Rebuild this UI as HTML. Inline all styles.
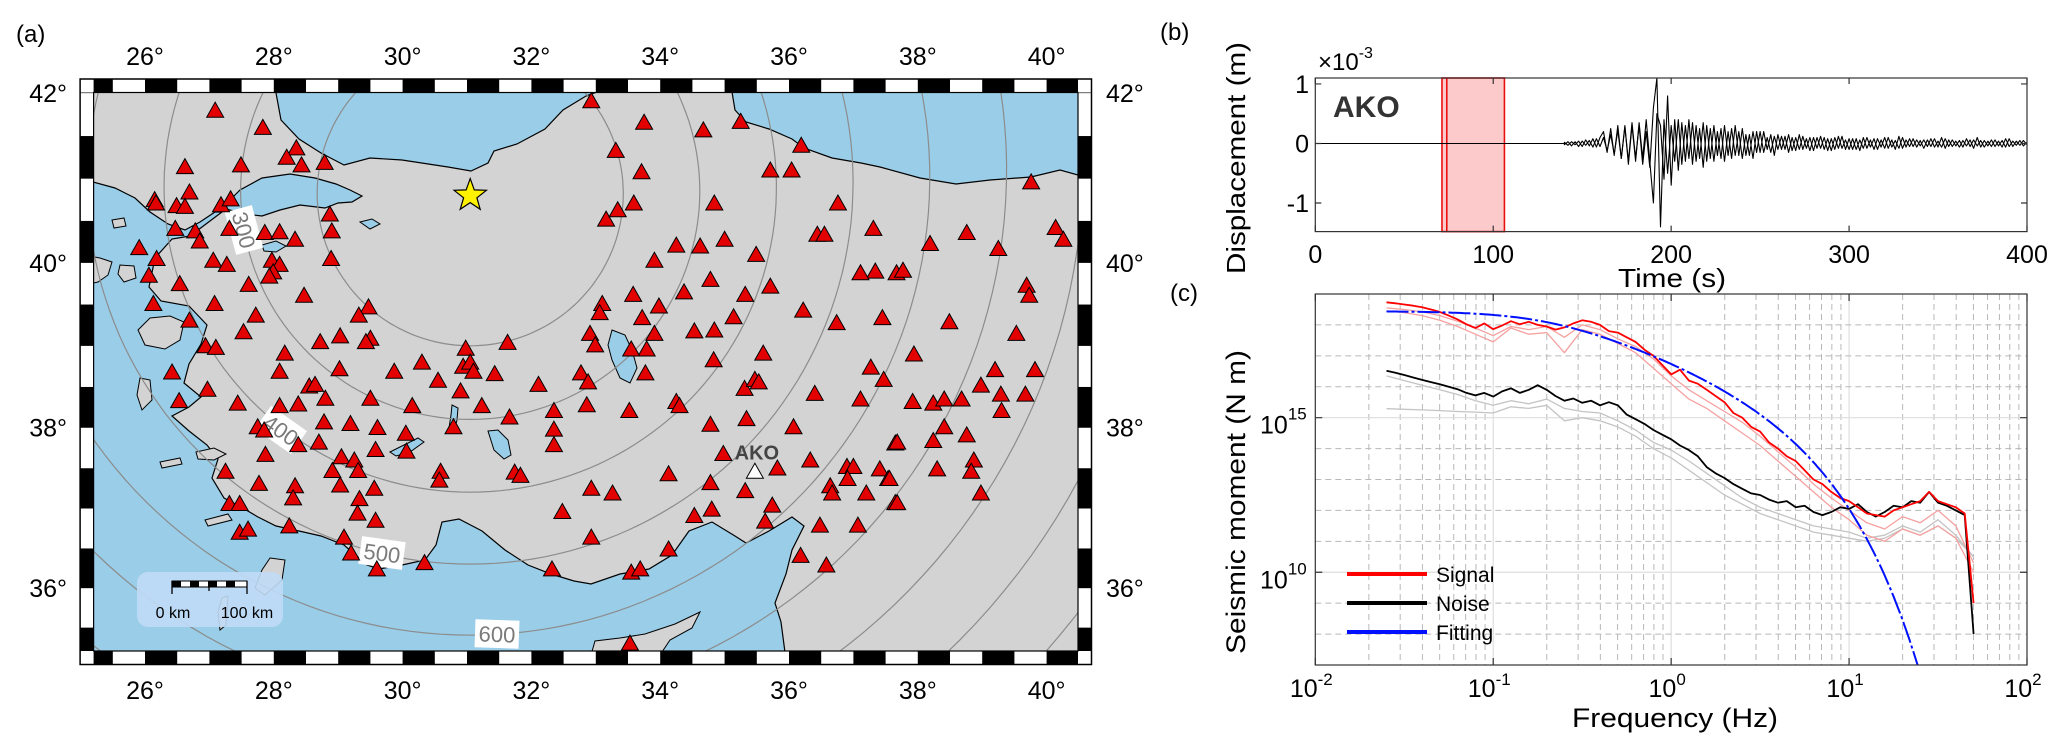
<!DOCTYPE html>
<html><head><meta charset="utf-8"><style>
html,body{margin:0;padding:0;background:#fff;width:2067px;height:750px;overflow:hidden;}
svg{display:block;font-family:"Liberation Sans",sans-serif;}
</style></head><body>
<svg id="fig" width="2067" height="750" viewBox="0 0 2067 750" xmlns="http://www.w3.org/2000/svg">
<defs>
<clipPath id="mapclip"><rect x="93.6" y="92.5" width="984.4" height="558.5"/></clipPath>
<clipPath id="bclip"><rect x="1315.3" y="78" width="711.7" height="154"/></clipPath>
<clipPath id="cclip"><rect x="1315.3" y="294" width="711.7" height="371"/></clipPath>
</defs>
<g id="mapg">
<g clip-path="url(#mapclip)">
<rect x="93.6" y="92.5" width="984.4" height="558.5" fill="#d3d3d3"/>
<path fill="#9acde8" stroke="#000" stroke-width="1.2" d="M276,80 L276,93 281,120 299,139 321,153 344,165 370,158 402,160 448,167 471,171 488,163 494,151 517,144 545,129 563,110 586,96 597,92 597,80 Z"/>
<path fill="#9acde8" stroke="#000" stroke-width="1.2" d="M732,80 L732,92 735,110 746,122 769,129 792,139 804,148 832,158 861,163 880,167 920,178 956,184 990,180 1031,177 1060,170 1078,175 1090,175 1090,80 Z"/>
<path fill="#9acde8" stroke="#000" stroke-width="1.2" d="M222,208 L240,190 262,178 290,174 315,178 336,184 350,190 362,196 352,202 338,203 325,208 300,205 280,210 262,216 245,214 Z"/>
<path fill="#9acde8" stroke="#000" stroke-width="1.2" d="M80,182 L93,182 115,188 135,198 150,212 168,224 185,230 200,222 215,212 222,212 190,236 172,239 155,258 149,287 161,301 189,306 207,325 201,344 189,364 184,383 201,397 189,407 172,416 189,431 207,445 218,459 212,478 224,498 241,507 258,517 276,526 299,531 321,536 344,545 367,565 379,569 402,565 425,560 436,545 442,522 459,519 482,531 505,550 528,565 551,574 574,581 591,584 620,574 649,569 672,555 689,531 712,522 735,536 746,543 769,531 792,517 804,526 792,550 786,574 775,603 781,622 786,660 80,660 Z"/>
<path fill="#d3d3d3" stroke="#000" stroke-width="1" d="M85,255 L100,258 112,262 108,275 98,282 85,285 Z"/>
<path fill="#d3d3d3" stroke="#000" stroke-width="1" d="M138,330 L150,318 170,316 184,322 180,340 165,349 145,345 Z"/>
<path fill="#d3d3d3" stroke="#000" stroke-width="1" d="M140,378 L150,380 152,400 142,410 137,395 Z"/>
<path fill="#d3d3d3" stroke="#000" stroke-width="1" d="M120,265 L134,266 136,278 124,282 118,274 Z"/>
<path fill="#d3d3d3" stroke="#000" stroke-width="1" d="M112,220 L124,218 126,226 114,228 Z"/>
<path fill="#d3d3d3" stroke="#000" stroke-width="1" d="M196,452 L214,448 226,454 214,460 198,459 Z"/>
<path fill="#d3d3d3" stroke="#000" stroke-width="1" d="M160,462 L180,458 182,464 162,468 Z"/>
<path fill="#d3d3d3" stroke="#000" stroke-width="1" d="M205,520 L228,514 232,520 208,526 Z"/>
<path fill="#d3d3d3" stroke="#000" stroke-width="1" d="M270,558 L285,560 282,580 265,595 255,588 262,570 Z"/>
<path fill="#d3d3d3" stroke="#000" stroke-width="1" d="M222,598 L228,596 226,625 220,630 218,612 Z"/>
<path fill="#d3d3d3" stroke="#000" stroke-width="1" d="M591,655 L595,641 620,638 645,634 675,624 700,612 692,628 670,640 660,655 Z"/>
<path fill="#9acde8" stroke="#000" stroke-width="1" d="M612,330 L625,335 632,350 637,368 630,383 620,378 612,360 608,345 Z"/>
<path fill="#9acde8" stroke="#000" stroke-width="1" d="M488,431 L498,430 508,440 511,455 504,459 494,450 Z"/>
<path fill="#9acde8" stroke="#000" stroke-width="1" d="M452,405 L458,408 457,420 454,432 449,428 451,415 Z"/>
<path fill="#9acde8" stroke="#000" stroke-width="1" d="M390,452 L402,446 418,438 424,442 410,452 396,456 Z"/>
<path fill="#9acde8" stroke="#000" stroke-width="1" d="M360,222 L372,219 380,224 370,229 Z"/>
<path fill="#9acde8" stroke="#000" stroke-width="1" d="M262,245 L276,241 286,246 276,252 264,251 Z"/>
<g id="circles"></g>
</g>
<g id="frame"></g>
<g id="labels"></g>
<g id="stations"></g>
<g>
<rect x="137" y="572" width="146" height="55" rx="11" fill="#c0dcf6" opacity="0.9"/>
<rect x="172" y="581" width="75" height="6" fill="#fff" stroke="#000" stroke-width="1"/>
<rect x="172" y="581" width="9" height="6" fill="#000"/><rect x="190" y="581" width="9" height="6" fill="#000"/><rect x="208" y="581" width="9" height="6" fill="#000"/><rect x="226" y="581" width="9" height="6" fill="#000"/>
<path d="M172,581 V594 M247,581 V594 M209,587 V591" stroke="#000" stroke-width="1.3"/>
<text x="173" y="618" font-size="16" text-anchor="middle">0 km</text>
<text x="247" y="618" font-size="16" text-anchor="middle">100 km</text>
</g>
</g>
<text x="16" y="42" font-size="24">(a)</text>
<text x="1160" y="40" font-size="24">(b)</text>
<text x="1170" y="301" font-size="24">(c)</text>
<g id="panelb"></g>
<g id="panelc"></g>
</svg>
<script>
// ---------- Map data ----------
const stationLon=[27.09,27.83,28.35,28.20,28.43,28.79,27.49,26.62,26.69,26.15,26.17,26.49,26.62,27.18,27.33,26.47,26.78,26.85,27.31,27.86,28.09,28.33,28.87,28.90,25.91,26.18,27.06,27.27,27.97,28.09,27.99,27.93,28.89,26.06,26.54,27.61,26.13,27.08,28.47,29.47,29.32,26.69,27.72,27.53,28.72,29.03,29.50,29.43,26.94,27.10,28.17,30.98,31.63,29.87,30.30,29.02,28.09,26.42,28.55,28.64,30.94,31.05,31.10,31.43,30.55,29.50,30.90,30.15,31.23,32.11,32.35,26.97,26.53,27.44,28.38,28.80,28.09,28.78,29.19,27.75,27.85,28.38,29.61,30.05,30.79,31.66,32.35,32.35,28.70,27.87,29.58,30.06,29.05,29.25,29.31,28.91,27.25,30.59,30.57,31.74,31.83,27.77,28.33,28.30,29.03,29.56,29.33,29.30,29.58,27.31,27.47,28.24,27.47,27.60,29.09,29.20,29.60,30.34,32.32,33.55,33.69,33.53,32.48,32.93,33.26,32.93,34.13,34.13,33.52,33.77,33.79,33.55,33.91,33.72,33.98,33.58,33.10,33.06,32.91,32.99,32.77,32.88,32.86,34.25,34.30,34.78,34.83,34.98,34.78,34.80,34.53,35.32,35.82,35.74,35.63,36.58,36.18,36.48,36.33,36.64,36.67,36.90,37.00,36.91,37.07,37.20,37.41,37.54,37.65,36.07,36.40,35.34,35.31,35.47,35.53,35.60,34.84,34.53,35.14,35.32,35.71,36.22,36.74,37.45,37.27,37.47,37.11,37.65,37.34,37.11,37.67,33.91,34.25,34.62,35.00,35.49,34.78,34.37,33.16,33.34,33.59,34.84,36.44,36.55,36.76,37.31,33.71,33.31,33.75,32.93,34.67,35.25,35.71,36.04,36.19,39.76,40.14,40.26,38.76,38.19,39.25,37.77,39.69,39.73,38.49,39.53,37.94,39.20,39.82,38.98,39.67,39.29,37.92,38.24,38.41,38.68,39.30,38.41,37.68,38.24,38.76,38.87,38.83,38.30,37.56,38.98,37.68];
const stationLat=[41.79,41.59,41.35,41.24,41.15,41.18,41.15,41.13,40.83,40.74,40.70,40.67,40.66,40.68,40.75,40.40,40.37,40.25,40.40,40.35,40.36,40.27,40.57,40.37,40.17,40.04,40.02,39.97,40.02,39.97,39.88,39.83,40.04,39.84,39.74,39.73,39.50,39.50,39.60,39.46,39.36,39.30,39.36,39.16,39.04,39.11,39.08,39.04,38.99,38.97,38.90,38.96,39.03,38.68,38.79,38.71,38.68,38.67,38.50,38.52,38.74,38.79,38.68,38.65,38.57,38.35,38.44,38.26,38.26,38.52,38.20,38.46,38.32,38.29,38.28,38.35,38.26,38.06,38.04,38.00,37.96,37.78,37.99,37.92,38.00,38.12,37.97,37.78,37.81,37.66,37.72,37.70,37.63,37.59,37.46,37.46,37.45,37.45,37.34,37.44,37.40,37.30,37.27,37.12,37.28,37.24,37.11,36.93,36.84,37.05,37.05,36.77,36.69,36.73,36.63,36.43,36.23,36.31,36.23,36.19,36.23,35.29,36.95,37.24,37.18,36.63,36.48,37.42,38.20,38.66,38.95,38.95,39.14,39.33,39.47,39.61,39.50,39.39,39.14,39.00,38.66,38.55,38.27,38.31,38.26,38.03,38.82,37.67,37.31,36.98,36.90,37.21,37.49,37.03,36.83,36.28,36.40,36.78,37.59,37.27,37.18,37.51,37.51,37.36,36.78,37.18,37.48,37.36,37.06,38.00,38.41,38.10,38.47,38.58,38.55,38.90,39.18,39.17,39.34,39.61,39.71,39.42,39.27,39.33,38.73,38.58,38.34,37.80,39.89,39.87,39.87,40.02,40.20,40.19,40.27,40.09,39.79,39.64,40.51,40.62,40.70,40.70,40.33,40.33,40.70,40.40,41.07,41.32,41.65,41.90,41.56,41.66,41.09,41.09,41.38,40.95,40.41,40.27,40.35,40.22,40.16,39.90,39.72,39.60,39.28,39.14,38.89,38.70,38.70,38.51,38.40,38.40,38.31,38.29,38.34,38.34,38.20,38.00,37.81,37.83,37.90,37.59,37.45,37.48,37.36,37.18,37.06];
const akoLon=35.47, akoLat=37.45;
const epiLon=31.05, epiLat=40.80;
const circleKm=[200,300,400,500,600,700,800,900,1000];
const lonTicks=[26,28,30,32,34,36,38,40];
const latTicks=[36,38,40,42];

// ---------- Waveform data (x1e-3 m), t from 140 to 400 step 2 ----------
const waveT0=140, waveDt=2;
const trace1=[0.02,-0.03,0.03,-0.02,0.04,-0.05,0.06,-0.04,0.08,-0.06,0.10,
0.20,-0.15,0.25,-0.20,0.30,-0.25,0.28,-0.30,0.35,-0.25,
0.30,-0.35,0.20,-0.40,0.60,1.10,-1.40,0.40,-0.50,0.30,
-0.30,0.40,-0.35,0.30,-0.25,0.35,-0.30,0.25,-0.40,0.30,
-0.25,0.30,-0.20,0.25,-0.30,0.20,-0.25,0.30,-0.20,0.25,
-0.20,0.15,-0.25,0.20,-0.15,0.20,-0.10,0.15,-0.20,0.15,
-0.10,0.12,-0.15,0.10,-0.12,0.15,-0.10,0.08,-0.12,0.10,
-0.08,0.12,-0.10,0.08,-0.12,0.10,-0.08,0.12,-0.10,0.08,
-0.10,0.08,-0.12,0.10,-0.08,0.06,-0.10,0.08,-0.06,0.10,
-0.08,0.06,-0.10,0.12,-0.08,0.06,-0.05,0.08,-0.06,0.05,
-0.08,0.06,-0.05,0.08,-0.06,0.10,-0.08,0.06,-0.05,0.04,
-0.06,0.05,-0.04,0.06,-0.08,0.10,-0.06,0.05,-0.04,0.06,
-0.05,0.04,-0.06,0.08,-0.05,0.04,-0.03,0.05,-0.04,0.02];
const trace2=[-0.02,0.03,-0.04,0.03,-0.05,0.04,-0.03,0.05,-0.06,0.08,-0.05,
0.10,-0.12,0.15,-0.18,0.22,-0.25,0.30,-0.35,0.30,-0.30,
0.35,-0.25,0.40,-0.30,-1.00,0.50,0.30,-0.60,0.80,-0.70,
0.40,-0.45,0.35,-0.30,0.40,-0.35,0.30,-0.25,0.35,-0.30,
0.25,-0.30,0.20,-0.25,0.30,-0.20,0.25,-0.20,0.20,-0.25,
0.15,-0.20,0.20,-0.15,0.20,-0.15,0.10,-0.15,0.12,-0.10,
0.12,-0.10,0.15,-0.12,0.10,-0.10,0.12,-0.08,0.10,-0.12,
0.10,-0.08,0.10,-0.12,0.08,-0.10,0.12,-0.08,0.06,-0.10,
0.08,-0.10,0.06,-0.08,0.10,-0.06,0.08,-0.10,0.06,-0.08,
0.10,-0.06,0.05,-0.08,0.10,-0.06,0.08,-0.05,0.06,-0.04,
0.06,-0.05,0.08,-0.06,0.04,-0.06,0.08,-0.05,0.06,-0.04,
0.05,-0.06,0.08,-0.05,0.06,-0.04,0.05,-0.06,0.04,-0.05,
0.06,-0.04,0.05,-0.06,0.08,-0.05,0.04,-0.03,0.05,-0.02];
const windowStart=71.2, windowInner=73.9, windowEnd=106.3;
const bXTicks=[0,100,200,300,400];
const bYTicks=[-1,0,1];

// ---------- Spectrum data (log10 N m) ----------
const specLogF0=-1.6, specStep=0.05;
const signalMain=[18.73,18.70,18.66,18.62,18.57,18.50,18.42,18.30,18.18,18.02,17.90,18.05,17.86,17.98,18.12,18.02,18.10,18.00,17.95,17.85,17.92,18.05,18.15,18.10,18.00,17.80,17.75,17.60,17.45,17.20,17.00,16.70,16.40,16.55,16.20,16.10,15.90,15.70,15.50,15.15,15.00,14.70,14.55,14.20,14.00,13.75,13.60,13.30,13.00,12.85,12.60,12.40,12.30,12.10,11.90,11.85,11.80,12.00,12.10,12.20,12.30,12.60,12.30,12.20,12.10,11.90,9.00];
const noiseMain=[16.52,16.45,16.38,16.30,16.22,16.15,16.08,16.00,15.92,15.80,15.72,15.80,15.68,15.85,15.95,15.80,15.90,16.05,15.90,15.70,15.55,15.62,15.48,15.55,15.40,15.50,15.40,15.10,14.95,14.80,14.60,14.45,14.30,14.10,13.95,13.75,13.40,13.20,13.05,12.85,12.70,12.55,12.50,12.35,12.25,12.30,12.10,12.15,11.95,11.85,11.95,12.10,12.05,12.20,11.95,11.80,11.95,12.15,12.10,12.30,12.25,12.60,12.25,12.15,12.00,11.85,8.00];
const lightStep=0.1;
const signalLight1=[18.45,18.40,18.30,18.15,17.95,17.70,17.45,17.90,17.70,17.75,17.10,17.85,17.70,17.40,17.10,16.60,16.10,15.60,15.30,14.90,14.50,14.10,13.60,13.10,12.60,12.10,11.70,11.20,11.00,11.40,11.20,11.50,11.10,10.00];
const signalLight2=[18.55,18.50,18.42,18.30,18.12,17.90,17.65,17.95,17.85,17.95,17.60,18.00,17.85,17.55,17.30,16.90,16.35,15.90,15.55,15.20,14.85,14.40,13.90,13.40,12.85,12.40,12.00,11.60,11.40,11.80,11.60,12.00,11.50,10.30];
const noiseLight1=[16.35,16.20,16.05,15.90,15.75,15.55,15.40,15.55,15.45,15.60,15.30,15.20,15.15,14.90,14.60,14.20,13.95,13.60,13.20,12.80,12.40,12.10,11.90,11.70,11.50,11.40,11.30,11.10,11.20,11.50,11.30,11.70,11.20,10.50];
const noiseLight2=[15.29,15.27,15.25,15.23,15.20,15.18,15.15,15.35,15.30,15.40,14.90,15.00,14.90,14.70,14.40,14.00,13.70,13.30,12.90,12.50,12.20,11.90,11.70,11.50,11.30,11.20,11.10,11.00,11.10,11.40,11.20,11.50,11.10,10.50];
const fitLogM0=18.45, fitFc=0.2, fitTstar=0.22;
const cXDecades=[-2,-1,0,1,2];
const cYLabels=[10,15];

// ---------- helpers ----------
const NS='http://www.w3.org/2000/svg';
function mk(tag,attrs,parent){const e=document.createElementNS(NS,tag);for(const k in attrs)e.setAttribute(k,attrs[k]);parent.appendChild(e);return e;}
const rad=Math.PI/180;
function mx(lon){return 145+(lon-26)*64.4;}
function my(lat){return 93+(0.8092-Math.log(Math.tan(Math.PI/4+lat*rad/2)))*3670;}

// ---------- Map: circles ----------
const cg=document.getElementById('circles');
const labelKm={300:[244,230,75],400:[281,430,35],500:[382,553,8],600:[497,634,2]};
circleKm.forEach(function(km){
  const d=km/6371, p1=epiLat*rad, l1=epiLon*rad;
  let s='';
  for(let th=0;th<=360;th+=2){
    const t=th*rad;
    const p2=Math.asin(Math.sin(p1)*Math.cos(d)+Math.cos(p1)*Math.sin(d)*Math.cos(t));
    const l2=l1+Math.atan2(Math.sin(t)*Math.sin(d)*Math.cos(p1),Math.cos(d)-Math.sin(p1)*Math.sin(p2));
    s+=(th?'L':'M')+mx(l2/rad).toFixed(1)+','+my(p2/rad).toFixed(1);
  }
  const c=mk('path',{d:s,fill:'none',stroke:'#8c8c8c','stroke-width':1.2},cg);
  
  
});
const lbg=document.getElementById('labels');
Object.keys(labelKm).forEach(function(k){
  const v=labelKm[k];
  const g=mk('g',{transform:'translate('+v[0]+','+v[1]+') rotate('+v[2]+')'},lbg);
  
  
  mk('rect',{x:-22,y:-14,width:44,height:28,fill:'#fff'},g);
  const t=mk('text',{x:0,y:8,'font-size':22,fill:'#7a7a7a','text-anchor':'middle'},g);
  t.textContent=k;
});

// ---------- Map frame ----------
const fr=document.getElementById('frame');
const L=93.6,R=1078,T=92.5,B=651,W=13.5;
mk('rect',{x:L-W,y:T-W,width:R-L+2*W,height:W,fill:'#fff'},fr);
mk('rect',{x:L-W,y:B,width:R-L+2*W,height:W,fill:'#fff'},fr);
mk('rect',{x:L-W,y:T,width:W,height:B-T,fill:'#fff'},fr);
mk('rect',{x:R,y:T,width:W,height:B-T,fill:'#fff'},fr);
for(let lon=25;lon<40.6;lon+=1){
  const x1=Math.max(L,mx(lon)),x2=Math.min(R,mx(lon+0.5));
  if(x2>x1){
    const a=mk('rect',{x:x1,y:T-W,width:x2-x1,height:W,fill:'#000'},fr);
    
    
    const b=mk('rect',{x:x1,y:B,width:x2-x1,height:W,fill:'#000'},fr);
    
    
  }
}
for(let lat=35;lat<42.1;lat+=1){
  const y1=Math.max(T,my(lat+0.5)),y2=Math.min(B,my(lat));
  if(y2>y1){
    const a=mk('rect',{x:L-W,y:y1,width:W,height:y2-y1,fill:'#000'},fr);
    
    
    const b=mk('rect',{x:R,y:y1,width:W,height:y2-y1,fill:'#000'},fr);
    
    
  }
}
mk('rect',{x:L-W,y:T-W,width:R-L+2*W,height:B-T+2*W,fill:'none',stroke:'#000','stroke-width':1.5},fr);
mk('rect',{x:L,y:T,width:R-L,height:B-T,fill:'none',stroke:'#000','stroke-width':1.2},fr);
const mapg=document.getElementById('mapg');
lonTicks.forEach(function(v){
  [[56,'top'],[690,'bottom']].forEach(function(p){
    const t=mk('text',{x:mx(v),y:p[0]+9,'font-size':25,'text-anchor':'middle'},mapg);
    
    
    t.textContent=v+'°';
  });
});
latTicks.forEach(function(v){
  const t=mk('text',{x:67,y:my(v)+9,'font-size':25,'text-anchor':'end'},mapg);
  
  
  t.textContent=v+'°';
  const t2=mk('text',{x:1106,y:my(v)+9,'font-size':25,'text-anchor':'start'},mapg);
  
  
  t2.textContent=v+'°';
});

// ---------- Stations ----------
const stg=document.getElementById('stations');
function tri(lon,lat,fill,parent){
  const x=mx(lon),y=my(lat);
  return mk('path',{d:'M'+x+','+(y-9)+' L'+(x+8.5)+','+(y+6)+' L'+(x-8.5)+','+(y+6)+' Z',fill:fill,stroke:'#000','stroke-width':1},parent);
}
for(let i=0;i<stationLon.length;i++){
  const s=tri(stationLon[i],stationLat[i],'#e30000',stg);
  
  
}
const ako=tri(akoLon,akoLat,'#fff',stg);


const akoT=mk('text',{x:mx(akoLon)+2,y:my(akoLat)-13,'font-size':20,'font-weight':'bold',fill:'#444','text-anchor':'middle'},stg);


akoT.textContent='AKO';
(function(){
  const cx=mx(epiLon),cy=my(epiLat);let s='';
  for(let i=0;i<10;i++){const r=i%2?7:17,a=-Math.PI/2+i*Math.PI/5;s+=(i?'L':'M')+(cx+r*Math.cos(a)).toFixed(1)+','+(cy+r*Math.sin(a)).toFixed(1);}
  const st=mk('path',{d:s+'Z',fill:'#fff200',stroke:'#000','stroke-width':1.2},stg);
  
  
})();

// ---------- Panel b ----------
const pb=document.getElementById('panelb');
const bx0=1315.3,bx1=2027,by0=78,by1=231.6,bYmin=-1.48,bYmax=1.1;
function bx(t){return bx0+(t/400)*(bx1-bx0);}
function byy(v){return by1-(v-bYmin)/(bYmax-bYmin)*(by1-by0);}
const win=mk('rect',{x:bx(windowStart),y:by0,width:bx(windowEnd)-bx(windowStart),height:by1-by0,fill:'#fccaca',stroke:'#e81010','stroke-width':1.6},pb);


const winL=mk('line',{x1:bx(windowInner),x2:bx(windowInner),y1:by0,y2:by1,stroke:'#e81010','stroke-width':1.6},pb);


const bg=mk('g',{'clip-path':'url(#bclip)'},pb);
[trace1,trace2].forEach(function(tr,k){
  let s='M'+bx(0)+','+byy(0)+' L'+bx(waveT0)+','+byy(0);
  for(let i=0;i<tr.length;i++)s+=' L'+bx(waveT0+i*waveDt).toFixed(1)+','+byy(tr[i]).toFixed(1);
  const p=mk('path',{d:s,fill:'none',stroke:'#000','stroke-width':1.1,'stroke-linejoin':'round'},bg);
  
  
});
const bbox=mk('rect',{x:bx0,y:by0,width:bx1-bx0,height:by1-by0,fill:'none',stroke:'#333','stroke-width':1.2},pb);


bXTicks.forEach(function(v){
  mk('path',{d:'M'+bx(v)+','+by1+' v-6 M'+bx(v)+','+by0+' v6',stroke:'#333','stroke-width':1.2},pb);
  const t=mk('text',{x:bx(v),y:263,'font-size':25,'text-anchor':'middle'},pb);
  
  
  t.textContent=v;
});
bYTicks.forEach(function(v){
  mk('path',{d:'M'+bx0+','+byy(v)+' h6 M'+bx1+','+byy(v)+' h-6',stroke:'#333','stroke-width':1.2},pb);
  const t=mk('text',{x:1309,y:byy(v)+9,'font-size':25,'text-anchor':'end'},pb);
  
  
  t.textContent=v;
});
(function(){
  const t=mk('text',{x:1318,y:70,'font-size':24},pb);
  
  
  t.innerHTML='×10<tspan font-size="16" dy="-12">-3</tspan>';
  const a=mk('text',{x:1333,y:117,'font-size':30,'font-weight':'bold',fill:'#333'},pb);
  
  
  a.textContent='AKO';
  const xl=mk('text',{x:1672,y:287,'font-size':26,'text-anchor':'middle',textLength:108,lengthAdjust:'spacingAndGlyphs'},pb);
  
  
  xl.textContent='Time (s)';
  const yl=mk('text',{x:0,y:0,'font-size':26,'text-anchor':'middle',textLength:232,lengthAdjust:'spacingAndGlyphs',transform:'translate(1245,158) rotate(-90)'},pb);
  
  
  yl.textContent='Displacement (m)';
})();

// ---------- Panel c ----------
const pc=document.getElementById('panelc');
const cx0=1315.3,cx1=2027,cy0=294,cy1=665,cLmin=7,cLmax=19;
function cxx(lf){return cx0+(lf+2)/4*(cx1-cx0);}
function cyy(lm){return cy1-(lm-cLmin)/(cLmax-cLmin)*(cy1-cy0);}
for(let d=-2;d<2;d++){for(let m=2;m<=9;m++){const x=cxx(d+Math.log10(m));mk('line',{x1:x,x2:x,y1:cy0,y2:cy1,stroke:'#b8b8b8','stroke-width':1,'stroke-dasharray':'6,4'},pc);}}
for(let d=-1;d<2;d++){mk('line',{x1:cxx(d),x2:cxx(d),y1:cy0,y2:cy1,stroke:'#dedede','stroke-width':1.2},pc);}
for(let e=8;e<=18;e++){const y=cyy(e);if(e===10||e===15)mk('line',{x1:cx0,x2:cx1,y1:y,y2:y,stroke:'#dedede','stroke-width':1.2},pc);else mk('line',{x1:cx0,x2:cx1,y1:y,y2:y,stroke:'#b8b8b8','stroke-width':1,'stroke-dasharray':'6,4'},pc);}
const cg2=mk('g',{'clip-path':'url(#cclip)'},pc);
function specPath(arr,step,color,w,name){
  let s='';for(let i=0;i<arr.length;i++)s+=(i?'L':'M')+cxx(specLogF0+i*step).toFixed(1)+','+cyy(arr[i]).toFixed(1);
  const p=mk('path',{d:s,fill:'none',stroke:color,'stroke-width':w,'stroke-linejoin':'round'},cg2);
  
  
}
specPath(noiseLight1,lightStep,'#c4c4c4',1.3,'noise-spectrum-light-1');
specPath(noiseLight2,lightStep,'#c4c4c4',1.3,'noise-spectrum-light-2');
specPath(signalLight1,lightStep,'#f6a0a0',1.3,'signal-spectrum-light-1');
specPath(signalLight2,lightStep,'#f6a0a0',1.3,'signal-spectrum-light-2');
specPath(noiseMain,specStep,'#000',1.8,'noise-spectrum');
specPath(signalMain,specStep,'#ff0000',1.8,'signal-spectrum');
(function(){
  let s='';let first=true;
  for(let lf=-1.6;lf<=1.5;lf+=0.01){const f=Math.pow(10,lf);const lm=fitLogM0-Math.log10(1+(f/fitFc)*(f/fitFc))-Math.PI*f*fitTstar/Math.LN10;if(lm<6)break;s+=(first?'M':'L')+cxx(lf).toFixed(1)+','+cyy(lm).toFixed(1);first=false;}
  const p=mk('path',{d:s,fill:'none',stroke:'#0010ff','stroke-width':2,'stroke-dasharray':'22,3,3,3'},cg2);
  
  
})();
const cbox=mk('rect',{x:cx0,y:cy0,width:cx1-cx0,height:cy1-cy0,fill:'none',stroke:'#333','stroke-width':1.2},pc);


cXDecades.forEach(function(d){
  mk('path',{d:'M'+cxx(d)+','+cy1+' v-7 M'+cxx(d)+','+cy0+' v7',stroke:'#333','stroke-width':1.2},pc);
  const t=mk('text',{x:cxx(d)-4,y:697,'font-size':25,'text-anchor':'middle'},pc);
  
  
  t.innerHTML='10<tspan font-size="17" dy="-12">'+d+'</tspan>';
});
cYLabels.forEach(function(e){
  mk('path',{d:'M'+cx0+','+cyy(e)+' h7 M'+cx1+','+cyy(e)+' h-7',stroke:'#333','stroke-width':1.2},pc);
  const t=mk('text',{x:1260,y:cyy(e)+16,'font-size':25},pc);
  
  
  t.innerHTML='10<tspan font-size="17" dy="-14">'+e+'</tspan>';
});
(function(){
  const xl=mk('text',{x:1675,y:727,'font-size':27,'text-anchor':'middle',textLength:206,lengthAdjust:'spacingAndGlyphs'},pc);
  
  
  xl.textContent='Frequency (Hz)';
  const yl=mk('text',{x:0,y:0,'font-size':27,'text-anchor':'middle',textLength:304,lengthAdjust:'spacingAndGlyphs',transform:'translate(1245,502) rotate(-90)'},pc);
  
  
  yl.textContent='Seismic moment (N m)';
  const items=[['Signal','#ff0000',574],['Noise','#000',603],['Fitting','#0010ff',632]];
  items.forEach(function(it){
    const g=mk('g',{},pc);
    
    
    mk('line',{x1:1347,x2:1427,y1:it[2],y2:it[2],stroke:it[1],'stroke-width':4},g);
    const t=mk('text',{x:1436,y:it[2]+8,'font-size':21},g);
    t.textContent=it[0];
  });
})();
</script>
</body></html>
